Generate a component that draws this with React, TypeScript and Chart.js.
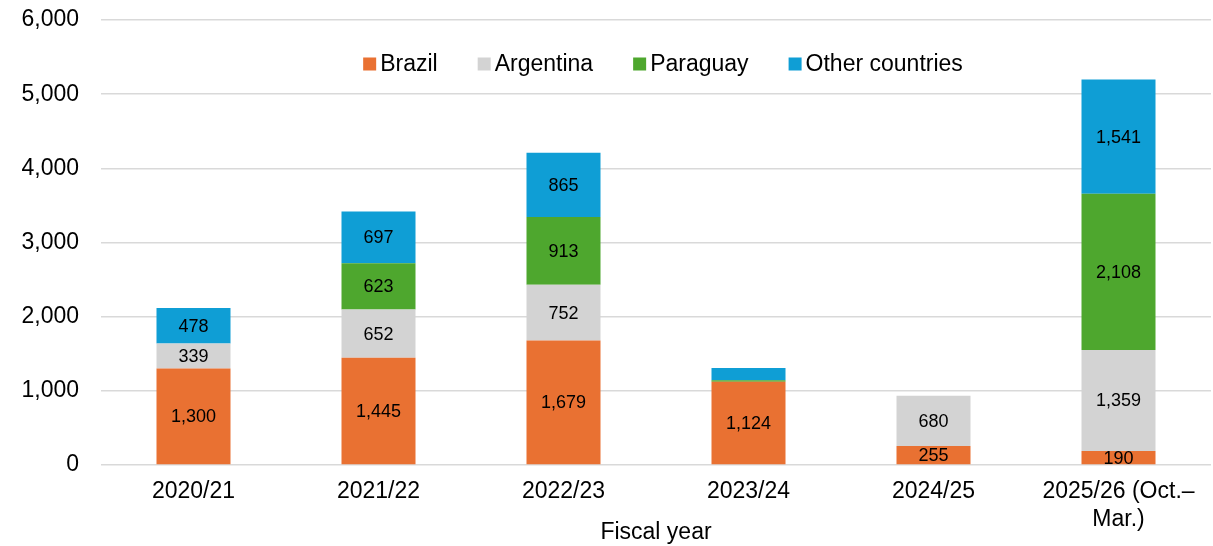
import React, { useEffect, useRef } from "react";
import { Chart, registerables } from "chart.js";

Chart.register(...registerables);

// Fiscal years on the category axis (last one spans two lines)
const fiscalYears: (string | string[])[] = [
  "2020/21",
  "2021/22",
  "2022/23",
  "2023/24",
  "2024/25",
  ["2025/26 (Oct.–", "Mar.)"],
];

// Volumes by origin country
const brazil = [1300, 1445, 1679, 1124, 255, 190];
const argentina = [339, 652, 752, 0, 680, 1359];
const paraguay = [0, 623, 913, 20, 0, 2108];
const otherCountries = [478, 697, 865, 165, 0, 1541];

const seriesNames = ["Brazil", "Argentina", "Paraguay", "Other countries"];
const seriesColors = ["#E97132", "#D3D3D3", "#4EA72E", "#0F9ED5"];

const yTicks = { min: 0, max: 6000, step: 1000 };
const axisTitle = "Fiscal year";

const FONT = "'Liberation Sans', Arial, sans-serif";
const LABEL_MIN_VALUE = 180;

const fmt = (v: number) => v.toLocaleString("en-US");

// Value labels centred in every sizeable stacked segment
const segmentLabels = {
  id: "segmentLabels",
  afterDatasetsDraw(chart: any) {
    const ctx = chart.ctx;
    ctx.save();
    ctx.font = `18px ${FONT}`;
    ctx.fillStyle = "#000";
    ctx.textAlign = "center";
    ctx.textBaseline = "middle";
    chart.data.datasets.forEach((ds: any, di: number) => {
      const meta = chart.getDatasetMeta(di);
      meta.data.forEach((bar: any, i: number) => {
        const v = ds.data[i];
        if (!v || v < LABEL_MIN_VALUE) return;
        const cy = (bar.y + bar.base) / 2;
        ctx.fillText(fmt(v), bar.x, cy + 1);
      });
    });
    ctx.restore();
  },
};

// Single-row legend placed inside the upper part of the plot area
const insideLegend = {
  id: "insideLegend",
  afterDraw(chart: any) {
    const ctx = chart.ctx;
    const box = 13;
    const boxGap = 4;
    const itemGap = 40;
    ctx.save();
    ctx.font = `23px ${FONT}`;
    ctx.textBaseline = "middle";
    ctx.textAlign = "left";
    const items = chart.data.datasets.map((ds: any) => ({
      label: ds.label,
      color: ds.backgroundColor,
      w: ctx.measureText(ds.label).width,
    }));
    const total =
      items.reduce((s: number, it: any) => s + box + boxGap + it.w, 0) +
      itemGap * (items.length - 1);
    const centerX = 663;
    const cy = 64;
    let x = centerX - total / 2;
    items.forEach((it: any) => {
      ctx.fillStyle = it.color;
      ctx.fillRect(x, cy - box / 2, box, box);
      ctx.fillStyle = "#000";
      ctx.fillText(it.label, x + box + boxGap, cy + 1);
      x += box + boxGap + it.w + itemGap;
    });
    ctx.restore();
  },
};

export default function App() {
  const canvasRef = useRef<HTMLCanvasElement | null>(null);

  useEffect(() => {
    if (!canvasRef.current) return;
    const series = [brazil, argentina, paraguay, otherCountries];
    const chart = new Chart(canvasRef.current, {
      type: "bar",
      data: {
        labels: fiscalYears,
        datasets: series.map((data, i) => ({
          label: seriesNames[i],
          data,
          backgroundColor: seriesColors[i],
          borderWidth: 0,
          categoryPercentage: 1,
          barPercentage: 0.4,
        })),
      },
      options: {
        animation: false,
        responsive: false,
        layout: { padding: { top: 20, right: 2, bottom: 0, left: 0 } },
        plugins: {
          legend: { display: false },
          tooltip: { enabled: false },
        },
        scales: {
          x: {
            stacked: true,
            grid: { display: false, drawTicks: false },
            border: { display: false },
            ticks: {
              color: "#000",
              padding: 13,
              maxRotation: 0,
              autoSkip: false,
              font: { family: FONT, size: 23, lineHeight: 1.2 },
            },
            title: {
              display: true,
              text: axisTitle,
              color: "#000",
              padding: { top: 0, bottom: 0 },
              font: { family: FONT, size: 23, lineHeight: 1.2 },
            },
            afterFit(scale: any) {
              scale.height = 81;
            },
          },
          y: {
            stacked: true,
            min: yTicks.min,
            max: yTicks.max,
            grid: { color: "#D9D9D9", lineWidth: 1.5, drawTicks: false },
            border: { display: false },
            ticks: {
              stepSize: yTicks.step,
              color: "#000",
              padding: 22,
              font: { family: FONT, size: 23 },
              callback: (v: any) => fmt(Number(v)),
            },
            afterFit(scale: any) {
              scale.width = 101;
              scale.paddingTop = 0;
              scale.paddingBottom = 0;
            },
          },
        },
      },
      plugins: [segmentLabels, insideLegend],
    });
    return () => chart.destroy();
  }, []);

  return (
    <div style={{ position: "absolute", left: 0, top: 0, width: 1213, height: 546 }}>
      <canvas ref={canvasRef} width={1213} height={546} style={{ display: "block" }} />
    </div>
  );
}
